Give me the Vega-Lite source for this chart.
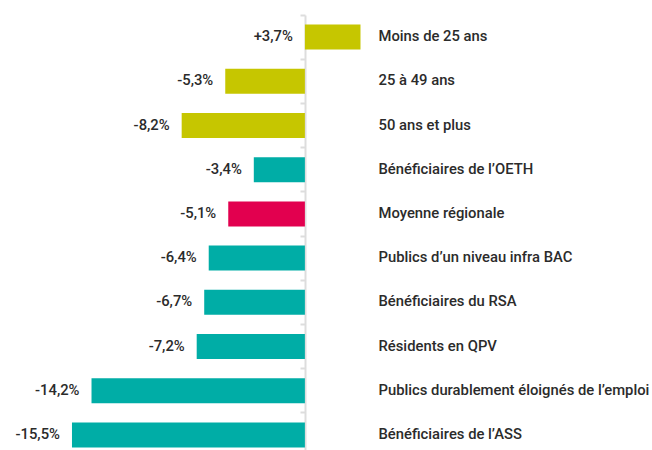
{
  "$schema": "https://vega.github.io/schema/vega-lite/v6.json",
  "width": 365,
  "height": 442,
  "autosize": {"type": "none"},
  "padding": {"left": 0, "top": 15, "right": 287, "bottom": 0},
  "background": "white",
  "config": {"view": {"stroke": null}, "font": "Roboto"},
  "data": {
    "values": [
      {"label": "Moins de 25 ans", "value": 3.7, "txt": "+3,7%", "group": "age"},
      {"label": "25 à 49 ans", "value": -5.3, "txt": "-5,3%", "group": "age"},
      {"label": "50 ans et plus", "value": -8.2, "txt": "-8,2%", "group": "age"},
      {"label": "Bénéficiaires de l’OETH", "value": -3.4, "txt": "-3,4%", "group": "public"},
      {"label": "Moyenne régionale", "value": -5.1, "txt": "-5,1%", "group": "moyenne"},
      {"label": "Publics d’un niveau infra BAC", "value": -6.4, "txt": "-6,4%", "group": "public"},
      {"label": "Bénéficiaires du RSA", "value": -6.7, "txt": "-6,7%", "group": "public"},
      {"label": "Résidents en QPV", "value": -7.2, "txt": "-7,2%", "group": "public"},
      {"label": "Publics durablement éloignés de l’emploi", "value": -14.2, "txt": "-14,2%", "group": "public"},
      {"label": "Bénéficiaires de l’ASS", "value": -15.5, "txt": "-15,5%", "group": "public"}
    ]
  },
  "layer": [
    {
      "mark": {"type": "bar", "height": {"band": 0.565}},
      "encoding": {
        "y": {
          "field": "label", "type": "nominal", "sort": null,
          "scale": {"paddingInner": 0, "paddingOuter": 0},
          "axis": {
            "orient": "left", "offset": -305, "labels": false, "title": null,
            "domainColor": "#dddddd", "domainWidth": 2,
            "tickColor": "#dddddd", "tickSize": 5, "tickWidth": 2,
            "bandPosition": 0, "grid": false
          }
        },
        "x": {"field": "value", "type": "quantitative", "scale": {"domain": [-20.29, 4.0], "nice": false, "zero": false}, "axis": null},
        "color": {
          "field": "group", "type": "nominal",
          "scale": {"domain": ["age", "public", "moyenne"], "range": ["#c6c600", "#00ada6", "#e2004f"]},
          "legend": null
        }
      }
    },
    {
      "transform": [{"calculate": "min(datum.value, 0)", "as": "lx"}],
      "mark": {"type": "text", "align": "right", "baseline": "middle", "dx": -12, "fontSize": 14.8, "fontWeight": 500, "color": "#2b2b2b"},
      "encoding": {
        "y": {
          "field": "label", "type": "nominal", "sort": null,
          "axis": {
            "orient": "right", "title": null, "domain": false, "ticks": false, "grid": false,
            "labelPadding": 13, "labelFontSize": 14.8, "labelFontWeight": 500,
            "labelColor": "#2b2b2b", "labelFont": "Roboto", "labelLimit": 400, "labelAlign": "left"
          }
        },
        "x": {"field": "lx", "type": "quantitative"},
        "text": {"field": "txt"}
      }
    }
  ],
  "resolve": {"axis": {"y": "independent"}}
}
